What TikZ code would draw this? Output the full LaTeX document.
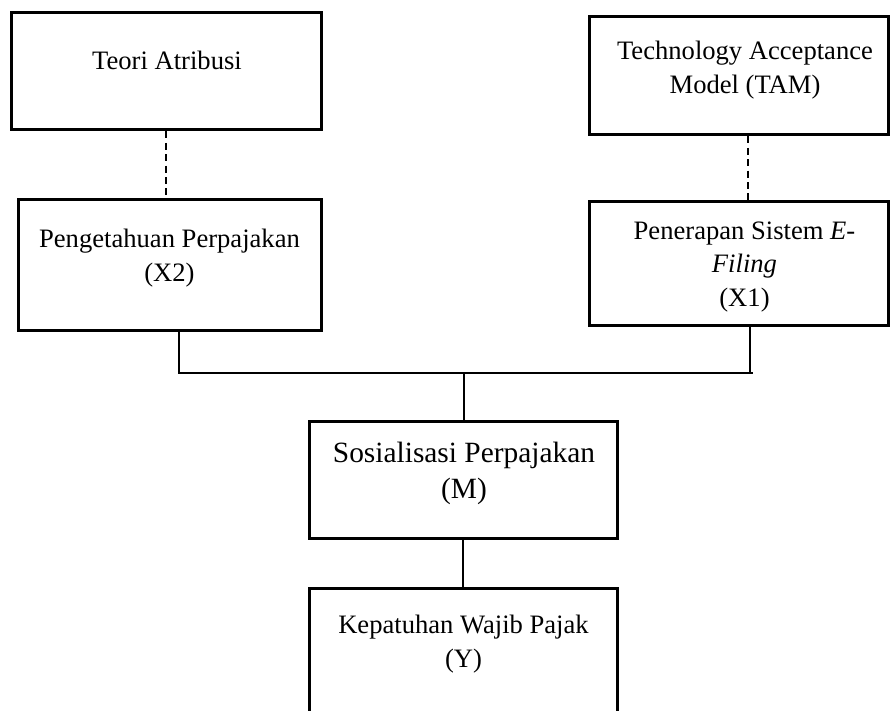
\documentclass[tikz,border=0pt]{standalone}
\usepackage{fontspec}
\setmainfont{Liberation Serif}
\usetikzlibrary{positioning}

\begin{document}
\begin{tikzpicture}[x=0.5pt, y=-0.5pt,
    box/.style={draw, line width=1.5pt, inner sep=0pt},
    lbl/.style={anchor=north, inner sep=0pt, align=center, font=\fontsize{13.3}{16.75}\selectfont},
    link/.style={line width=1pt},
    dashlink/.style={line width=1.2pt, dash pattern=on 3.5pt off 2.2pt}]
            \clip (0,0) rectangle (890,711);
            % boxes
            \node[box, minimum width=155pt, minimum height=58.5pt] (teori) at (166,71.5) {};
            \node[box, minimum width=149.5pt, minimum height=59pt] (tam) at (738.5,76) {};
            \node[box, minimum width=151.5pt, minimum height=65.5pt] (penget) at (169.5,265.5) {};
            \node[box, minimum width=149.5pt, minimum height=62pt] (terap) at (738.5,264) {};
            \node[box, minimum width=154pt, minimum height=58.5pt] (sosial) at (463,480.5) {};
            \node[box, minimum width=154pt, minimum height=66pt] (patuh) at (463,654) {};
            % texts
            \node[lbl] (teoriT) at (167,51) {Teori Atribusi};
            \node[lbl] (tamT) at (745,41) {Technology Acceptance\\Model (TAM)};
            \node[lbl] (pengetT) at (169.5,229) {Pengetahuan Perpajakan\\(X2)};
            \node[lbl] (terapT) at (744.5,221) {Penerapan Sistem \textit{E}-\\\textit{Filing}\\(X1)};
            \node[lbl, font=\fontsize{14.7}{18}\selectfont] (sosialT) at (464,442) {Sosialisasi Perpajakan\\(M)};
            \node[lbl] (patuhT) at (463.5,615) {Kepatuhan Wajib Pajak\\(Y)};
            % connectors
            \coordinate (busL) at (179,373);
            \coordinate (busM) at (464,373);
            \coordinate (busR) at (750,373);
            \coordinate (busE) at (753,373);
            \draw[dashlink] (teori.south) -- (teori.south |- penget.north);
            \draw[dashlink] ([xshift=4.75pt]tam.south) -- ([xshift=4.75pt]tam.south |- terap.north);
            \draw[link] (busL |- penget.south) -- (busL) -- (busE);
            \draw[link] (busR |- terap.south) -- (busR);
            \draw[link] (busM) -- (busM |- sosial.north);
            \draw[link] (sosial.south) -- (patuh.north);
        \end{tikzpicture}
\end{document}
